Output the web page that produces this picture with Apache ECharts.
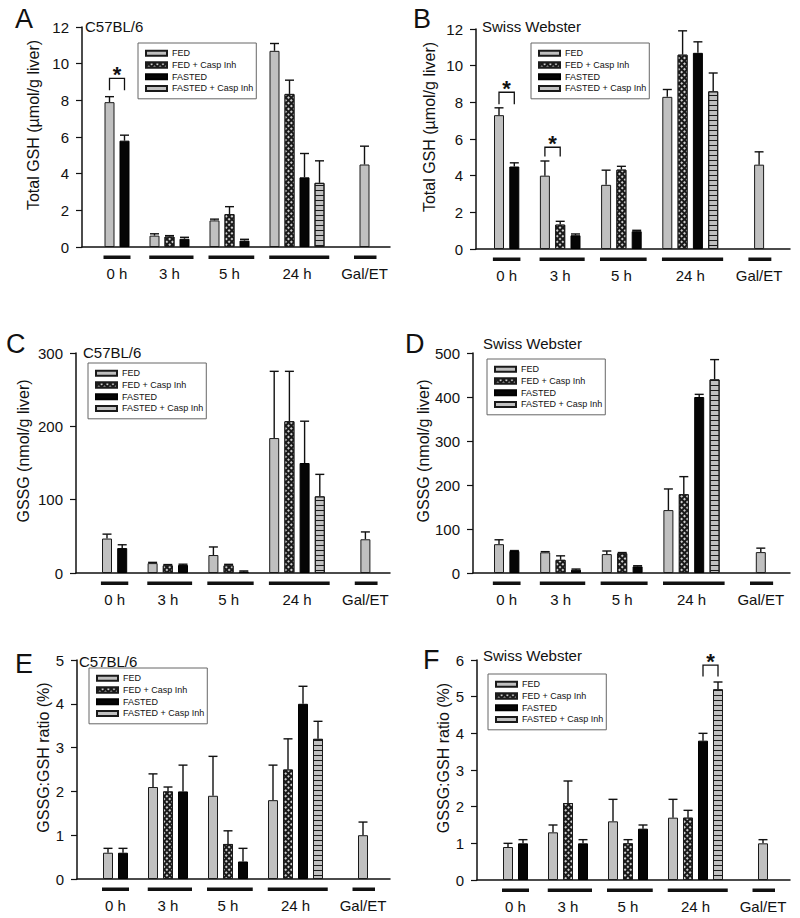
<!DOCTYPE html>
<html><head><meta charset="utf-8">
<script src="https://cdn.jsdelivr.net/npm/echarts@6/dist/echarts.min.js"></script>
<style>html,body{margin:0;padding:0;background:#fff}#c{width:800px;height:918px}</style>
</head><body><div id="c"></div>
<script>
// ---------------- DATA ----------------
const groups = ['0 h', '3 h', '5 h', '24 h', 'Gal/ET'];
const treatments = ['FED', 'FED + Casp Inh', 'FASTED', 'FASTED + Casp Inh'];
const gapSlotsAfterGroup = [1, 1, 1, 2];

const panelLetters = ['A', 'B', 'C', 'D', 'E', 'F'];
const strains = ['C57BL/6', 'Swiss Webster', 'C57BL/6', 'Swiss Webster', 'C57BL/6', 'Swiss Webster'];
const yNames = ['Total GSH (µmol/g liver)', 'Total GSH (µmol/g liver)', 'GSSG (nmol/g liver)', 'GSSG (nmol/g liver)', 'GSSG:GSH ratio (%)', 'GSSG:GSH ratio (%)'];
const yMaxes = [12, 12, 300, 500, 5, 6];
const ySteps = [2, 2, 100, 100, 1, 1];

// Panel A: C57BL/6 total GSH
const A_FED = [7.9, 0.62, 1.45, 10.7, 4.5];         const A_FED_sem = [0.3, 0.1, 0.07, 0.4, 1.0];
const A_FEDC = [null, 0.57, 1.8, 8.35, null];       const A_FEDC_sem = [null, 0.05, 0.4, 0.75, null];
const A_FAST = [5.8, 0.45, 0.35, 3.8, null];        const A_FAST_sem = [0.3, 0.08, 0.07, 1.3, null];
const A_FASTC = [null, null, null, 3.5, null];      const A_FASTC_sem = [null, null, null, 1.2, null];
// Panel B: Swiss Webster total GSH
const B_FED = [7.3, 4.0, 3.5, 8.3, 4.6];            const B_FED_sem = [0.4, 0.8, 0.8, 0.4, 0.7];
const B_FEDC = [null, 1.33, 4.33, 10.6, null];      const B_FEDC_sem = [null, 0.18, 0.18, 1.3, null];
const B_FAST = [4.5, 0.75, 0.97, 10.7, null];       const B_FAST_sem = [0.2, 0.07, 0.05, 0.6, null];
const B_FASTC = [null, null, null, 8.6, null];      const B_FASTC_sem = [null, null, null, 1.0, null];
// Panel C: C57BL/6 GSSG
const C_FED = [47, 13.5, 24.5, 184, 46];            const C_FED_sem = [6, 1, 11, 91, 10];
const C_FEDC = [null, 10.5, 10.5, 207, null];       const C_FEDC_sem = [null, 1, 1.3, 68, null];
const C_FAST = [34, 11, 2, 150, null];              const C_FAST_sem = [4.5, 1, 0.8, 57, null];
const C_FASTC = [null, null, null, 104.5, null];    const C_FASTC_sem = [null, null, null, 30, null];
// Panel D: Swiss Webster GSSG
const D_FED = [65.5, 47, 43, 143, 47.5];            const D_FED_sem = [10, 1.5, 7, 48, 9];
const D_FEDC = [null, 30, 45, 179, null];           const D_FEDC_sem = [null, 9, 1.5, 40, null];
const D_FAST = [50, 7.5, 15, 400, null];            const D_FAST_sem = [1, 1.5, 1.5, 6, null];
const D_FASTC = [null, null, null, 440, null];      const D_FASTC_sem = [null, null, null, 45, null];
// Panel E: C57BL/6 GSSG:GSH ratio
const E_FED = [0.6, 2.1, 1.9, 1.8, 1.0];            const E_FED_sem = [0.1, 0.3, 0.9, 0.8, 0.3];
const E_FEDC = [null, 2.0, 0.8, 2.5, null];         const E_FEDC_sem = [null, 0.1, 0.3, 0.7, null];
const E_FAST = [0.6, 2.0, 0.4, 4.0, null];          const E_FAST_sem = [0.1, 0.6, 0.3, 0.4, null];
const E_FASTC = [null, null, null, 3.2, null];      const E_FASTC_sem = [null, null, null, 0.4, null];
// Panel F: Swiss Webster GSSG:GSH ratio
const F_FED = [0.9, 1.3, 1.6, 1.7, 1.0];            const F_FED_sem = [0.1, 0.2, 0.6, 0.5, 0.1];
const F_FEDC = [null, 2.1, 1.0, 1.7, null];         const F_FEDC_sem = [null, 0.6, 0.1, 0.2, null];
const F_FAST = [1.0, 1.0, 1.4, 3.8, null];          const F_FAST_sem = [0.1, 0.1, 0.1, 0.2, null];
const F_FASTC = [null, null, null, 5.2, null];      const F_FASTC_sem = [null, null, null, 0.2, null];

// significance brackets: [groupIndex, treatmentA, treatmentB, bracketTop, legBottom]
const A_brackets = [[0, 0, 2, 9.2, 8.55]];
const B_brackets = [[0, 0, 2, 8.55, 7.9], [1, 0, 1, 5.55, 5.05]];
const F_brackets = [[3, 2, 3, 5.86, 5.55]];

const panelMeans = [
  [A_FED, A_FEDC, A_FAST, A_FASTC], [B_FED, B_FEDC, B_FAST, B_FASTC],
  [C_FED, C_FEDC, C_FAST, C_FASTC], [D_FED, D_FEDC, D_FAST, D_FASTC],
  [E_FED, E_FEDC, E_FAST, E_FASTC], [F_FED, F_FEDC, F_FAST, F_FASTC]];
const panelSems = [
  [A_FED_sem, A_FEDC_sem, A_FAST_sem, A_FASTC_sem], [B_FED_sem, B_FEDC_sem, B_FAST_sem, B_FASTC_sem],
  [C_FED_sem, C_FEDC_sem, C_FAST_sem, C_FASTC_sem], [D_FED_sem, D_FEDC_sem, D_FAST_sem, D_FASTC_sem],
  [E_FED_sem, E_FEDC_sem, E_FAST_sem, E_FASTC_sem], [F_FED_sem, F_FEDC_sem, F_FAST_sem, F_FASTC_sem]];
const panelBrackets = [A_brackets, B_brackets, [], [], [], F_brackets];

// ---------------- LAYOUT / STYLE ----------------
const FONT = 'Liberation Sans, Arial, Helvetica, sans-serif';
const INK = '#111';
const layouts = [
  {left: 82,  right: 390, top: 27,  bottom: 247, s0: 109.5, pitch: 15,   legend: [138, 43],  letter: [15, 5],    strain: [85, 19],   nameGap: 41},
  {left: 476, right: 790, top: 29,  bottom: 249, s0: 499,   pitch: 15.3, legend: [531, 43],  letter: [413, 5],   strain: [482, 19],  nameGap: 39},
  {left: 76,  right: 390, top: 353, bottom: 573, s0: 107,   pitch: 15.2, legend: [88, 363],  letter: [6, 330],   strain: [83, 345],  nameGap: 45},
  {left: 473, right: 790, top: 353, bottom: 573, s0: 499,   pitch: 15.4, legend: [487, 359], letter: [405, 330], strain: [483, 336], nameGap: 42},
  {left: 77,  right: 390, top: 660, bottom: 879, s0: 108,   pitch: 15,   legend: [89, 668],  letter: [15, 650],  strain: [79, 654],  nameGap: 26},
  {left: 477, right: 790, top: 660, bottom: 880, s0: 508,   pitch: 15,   legend: [488, 674], letter: [423, 646], strain: [483, 648], nameGap: 26}];
const underlineExtL = [0.4, 0.35, 0.4, 0.35, 0.7];
const underlineExtR = [0.4, 0.6, 0.65, 0.65, 0.8];

const barStyles = [
  {color: '#c0c0c0', borderColor: '#1a1a1a', borderWidth: 1},
  {color: '#1a1a1a', borderColor: '#1a1a1a', borderWidth: 1,
   decal: {symbol: 'rect', symbolSize: 1, color: '#cfcfcf', dashArrayX: [2, 1.3], dashArrayY: [2, 1.3], rotation: Math.PI / 4}},
  {color: '#050505', borderColor: '#000', borderWidth: 1},
  {color: '#c0c0c0', borderColor: '#1a1a1a', borderWidth: 1,
   decal: {symbol: 'rect', symbolSize: 1, color: '#1a1a1a', dashArrayX: [1, 0], dashArrayY: [1, 4], rotation: 0}}];

function slotLayout(means) {
  const slot = treatments.map(() => groups.map(() => null));
  const spans = [];
  let s = 0;
  groups.forEach((g, gi) => {
    const start = s;
    treatments.forEach((t, ti) => { if (means[ti][gi] != null) { slot[ti][gi] = s; s++; } });
    spans.push([start, s - 1, gi]);
    if (gi < gapSlotsAfterGroup.length) s += gapSlotsAfterGroup[gi];
  });
  return {slot, spans};
}

const option = {animation: false, title: [], legend: [], grid: [], xAxis: [], yAxis: [], series: []};

layouts.forEach((L, pi) => {
  const means = panelMeans[pi], sems = panelSems[pi];
  const {slot, spans} = slotLayout(means);
  option.grid.push({left: L.left, top: L.top, width: L.right - L.left, height: L.bottom - L.top});
  option.xAxis.push({
    type: 'value', gridIndex: pi,
    min: (L.left - L.s0) / L.pitch, max: (L.right - L.s0) / L.pitch,
    axisLine: {show: true, onZero: false, lineStyle: {color: INK, width: 1.5}},
    axisTick: {show: false}, axisLabel: {show: false}, splitLine: {show: false}
  });
  option.yAxis.push({
    type: 'value', gridIndex: pi, min: 0, max: yMaxes[pi], interval: ySteps[pi],
    name: yNames[pi], nameLocation: 'middle', nameGap: L.nameGap,
    nameTextStyle: {fontSize: 16, color: INK, fontFamily: FONT, padding: [0, 0, 0, 24]},
    axisLine: {show: true, onZero: false, lineStyle: {color: INK, width: 1.5}},
    axisTick: {show: true, length: 6, lineStyle: {color: INK, width: 1.2}},
    axisLabel: {fontSize: 15, color: INK, fontFamily: FONT, margin: 13},
    splitLine: {show: false}
  });
  option.title.push({text: panelLetters[pi], left: L.letter[0], top: L.letter[1], padding: 0,
    textStyle: {fontSize: 27, fontWeight: 'normal', color: INK, fontFamily: FONT}});
  option.title.push({text: strains[pi], left: L.strain[0], top: L.strain[1], padding: 0,
    textStyle: {fontSize: 15, fontWeight: 'normal', color: INK, fontFamily: FONT}});
  option.legend.push({
    data: treatments, orient: 'vertical', left: L.legend[0], top: L.legend[1],
    icon: 'rect', itemWidth: 21, itemHeight: 5, itemGap: 1, padding: [5, 3, 5, 7],
    borderColor: '#666', borderWidth: 1, selectedMode: false,
    textStyle: {fontSize: 9, lineHeight: 10.7, color: INK, fontFamily: FONT}
  });
  const errData = [];
  treatments.forEach((t, ti) => {
    const data = [];
    groups.forEach((g, gi) => {
      if (means[ti][gi] != null) {
        data.push([slot[ti][gi], means[ti][gi]]);
        errData.push([slot[ti][gi], means[ti][gi], sems[ti][gi]]);
      }
    });
    option.series.push({type: 'bar', name: t, xAxisIndex: pi, yAxisIndex: pi, barWidth: 10, barGap: '-100%',
      itemStyle: barStyles[ti], data, z: 3});
  });
  // error bars (upper only)
  option.series.push({type: 'custom', xAxisIndex: pi, yAxisIndex: pi, data: errData, encode: {x: 0, y: 1}, z: 2,
    renderItem: (params, api) => {
      const x = api.value(0), m = api.value(1), e = api.value(2);
      const p0 = api.coord([x, m]), p1 = api.coord([x, m + e]);
      const st = {stroke: INK, lineWidth: 1.4};
      return {type: 'group', children: [
        {type: 'line', shape: {x1: p0[0], y1: p0[1], x2: p1[0], y2: p1[1]}, style: st},
        {type: 'line', shape: {x1: p1[0] - 4.5, y1: p1[1], x2: p1[0] + 4.5, y2: p1[1]}, style: st}]};
    }});
  // group underlines and labels
  option.series.push({type: 'custom', xAxisIndex: pi, yAxisIndex: pi, data: spans, encode: {x: [0, 1]}, z: 2, clip: false,
    renderItem: (params, api) => {
      const a = api.value(0), b = api.value(1), gi = api.value(2);
      const pa = api.coord([a - underlineExtL[gi], 0]), pb = api.coord([b + underlineExtR[gi], 0]);
      const pc = api.coord([(a + b) / 2, 0]);
      return {type: 'group', children: [
        {type: 'rect', shape: {x: pa[0], y: pa[1] + 8.5, width: pb[0] - pa[0], height: 3.5}, style: {fill: INK}},
        {type: 'text', x: pc[0], y: pc[1] + 26, style: {text: groups[gi], fill: INK, fontSize: 15, fontFamily: FONT, align: 'center', verticalAlign: 'middle'}}]};
    }});
  // significance brackets
  const br = panelBrackets[pi].map(([gi, ta, tb, top, low]) => [slot[ta][gi], slot[tb][gi], top, low]);
  if (br.length) {
    option.series.push({type: 'custom', xAxisIndex: pi, yAxisIndex: pi, data: br, encode: {x: [0, 1], y: [2, 3]}, z: 2, clip: false,
      renderItem: (params, api) => {
        const x0 = api.value(0), x1 = api.value(1), top = api.value(2), low = api.value(3);
        const a = api.coord([x0, low]), b = api.coord([x0, top]), c = api.coord([x1, top]), d = api.coord([x1, low]);
        return {type: 'group', children: [
          {type: 'polyline', shape: {points: [a, b, c, d]}, style: {stroke: INK, lineWidth: 1.3, fill: null}},
          {type: 'text', x: (b[0] + c[0]) / 2, y: b[1] - 4, style: {text: '*', fill: INK, fontSize: 22, fontWeight: 'bold', fontFamily: FONT, align: 'center', verticalAlign: 'middle'}}]};
      }});
  }
});

const chart = echarts.init(document.getElementById('c'), null, {renderer: 'svg'});
chart.setOption(option);
</script></body></html>
